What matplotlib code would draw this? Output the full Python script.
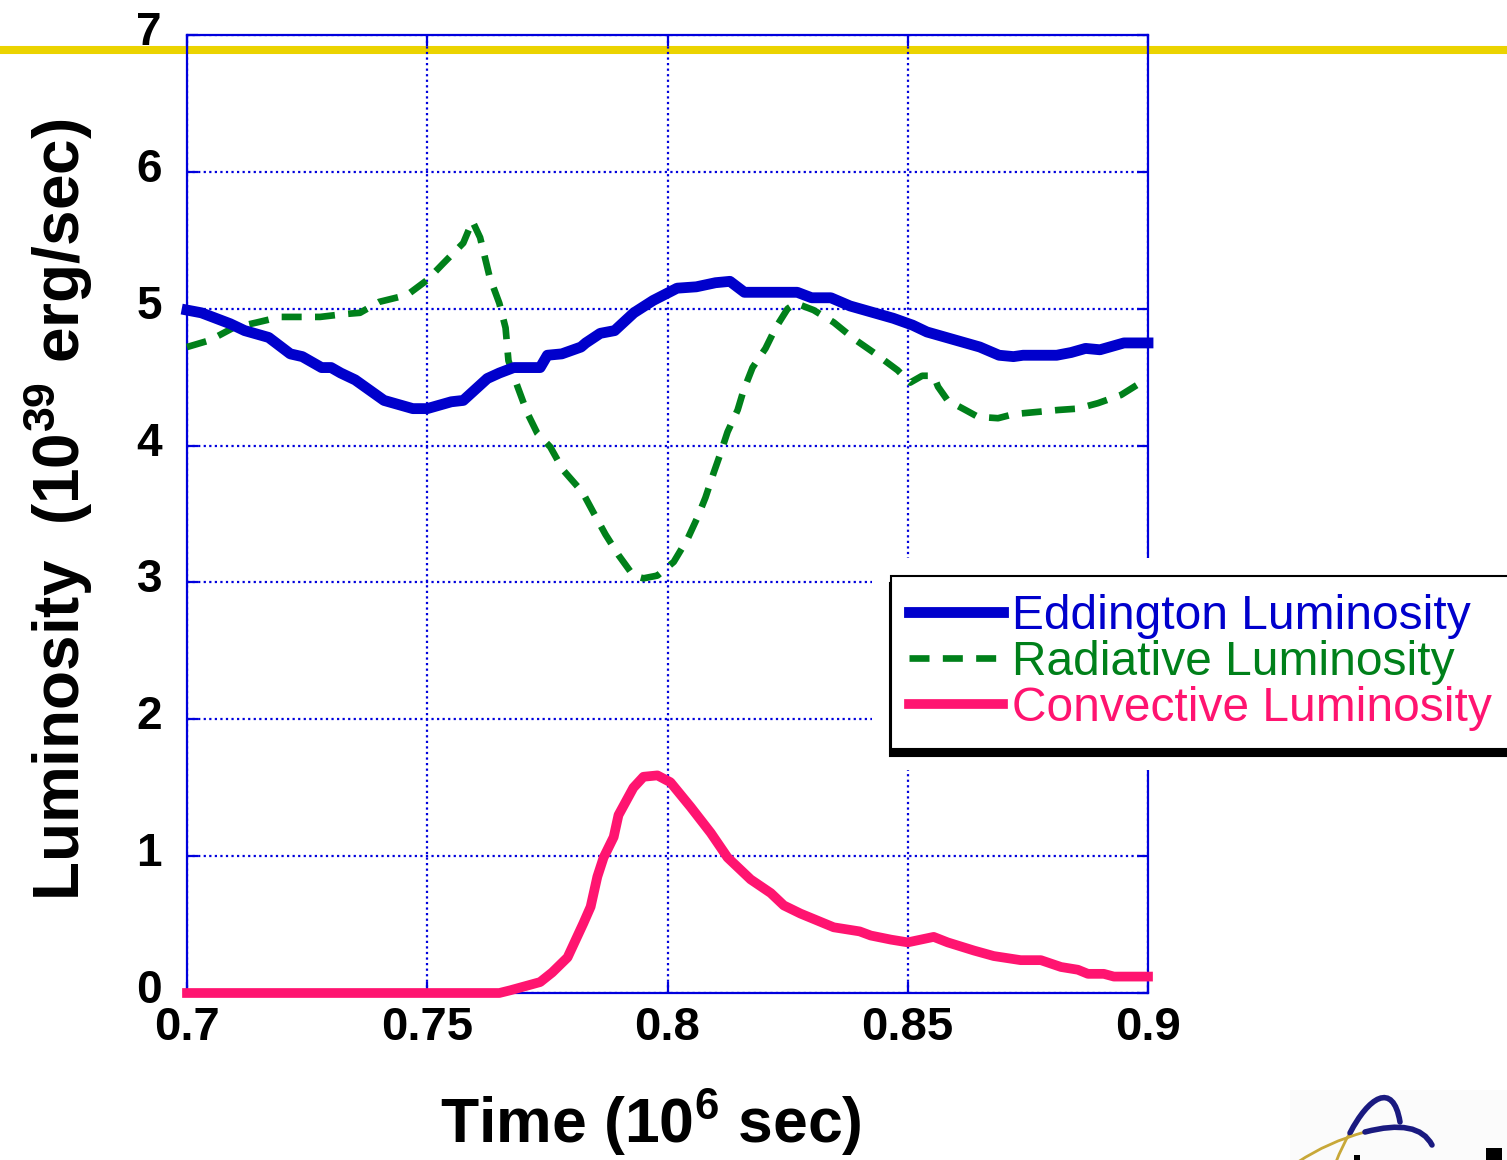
import matplotlib
matplotlib.use('Agg')
import matplotlib.pyplot as plt
import matplotlib.transforms as mtransforms
from matplotlib.lines import Line2D
from matplotlib.patches import Rectangle, PathPatch
from matplotlib.path import Path

plt.rcParams['font.family'] = ['Liberation Sans', 'DejaVu Sans']
plt.rcParams['font.weight'] = 'bold'
plt.rcParams['mathtext.fontset'] = 'custom'
plt.rcParams['mathtext.rm'] = 'Liberation Sans:bold'
plt.rcParams['mathtext.bf'] = 'Liberation Sans:bold'

# Eddington luminosity (10^39 erg/sec) vs time (10^6 sec)
edd_t = [0.700, 0.703, 0.709, 0.712, 0.717, 0.7215, 0.724, 0.728, 0.730, 0.732,
         0.735, 0.741, 0.747, 0.750, 0.755, 0.7575, 0.7625, 0.765, 0.768, 0.7735,
         0.775, 0.778, 0.782, 0.783, 0.786, 0.789, 0.793, 0.797, 0.802, 0.806,
         0.810, 0.813, 0.816, 0.827, 0.830, 0.834, 0.838, 0.843, 0.847, 0.851,
         0.854, 0.859, 0.865, 0.869, 0.872, 0.874, 0.881, 0.884, 0.887, 0.890,
         0.895, 0.900]
edd_l = [4.99, 4.97, 4.89, 4.84, 4.79, 4.67, 4.65, 4.57, 4.57, 4.53,
         4.48, 4.33, 4.27, 4.27, 4.32, 4.33, 4.49, 4.53, 4.57, 4.57,
         4.66, 4.67, 4.72, 4.75, 4.82, 4.84, 4.97, 5.06, 5.15, 5.16,
         5.19, 5.20, 5.12, 5.12, 5.08, 5.08, 5.02, 4.97, 4.93, 4.88,
         4.83, 4.78, 4.72, 4.66, 4.65, 4.66, 4.66, 4.68, 4.71, 4.70,
         4.75, 4.75]

rad_t = [0.700, 0.7048, 0.7096, 0.7146, 0.7194, 0.7277, 0.7325, 0.736, 0.740, 0.7458,
         0.750, 0.7533, 0.7575, 0.7594, 0.761, 0.763, 0.765, 0.7663, 0.7669, 0.7688,
         0.7708, 0.7729, 0.7756, 0.7783, 0.7823, 0.7846, 0.7871, 0.7898, 0.7929, 0.795,
         0.7979, 0.8013, 0.8042, 0.8063, 0.8079, 0.8096, 0.811, 0.8125, 0.8146, 0.8158,
         0.8177, 0.8204, 0.8225, 0.825, 0.8267, 0.8304, 0.8346, 0.8388, 0.8433, 0.8479,
         0.8505, 0.853, 0.8554, 0.8563, 0.8583, 0.862, 0.8646, 0.8688, 0.8721, 0.8813,
         0.8854, 0.8896, 0.8944, 0.8985, 0.900]
rad_l = [4.72, 4.77, 4.86, 4.90, 4.94, 4.94, 4.96, 4.97, 5.05, 5.10,
         5.21, 5.33, 5.48, 5.64, 5.52, 5.23, 5.04, 4.86, 4.62, 4.43,
         4.24, 4.09, 3.99, 3.82, 3.66, 3.51, 3.35, 3.20, 3.05, 3.03,
         3.05, 3.15, 3.32, 3.48, 3.62, 3.80, 3.94, 4.10, 4.26, 4.40,
         4.57, 4.71, 4.86, 5.00, 5.04, 4.99, 4.90, 4.78, 4.67, 4.55,
         4.46, 4.51, 4.51, 4.43, 4.33, 4.26, 4.21, 4.20, 4.23, 4.26,
         4.27, 4.31, 4.37, 4.46, 4.48]

conv_t = [0.700, 0.765, 0.7673, 0.7735, 0.776, 0.7792, 0.7825, 0.784, 0.7854, 0.7867,
          0.7888, 0.7898, 0.7929, 0.795, 0.7979, 0.8006, 0.8048, 0.809, 0.8125, 0.8173,
          0.8215, 0.8242, 0.8277, 0.8346, 0.840, 0.8423, 0.8465, 0.850, 0.8554, 0.8583,
          0.8638, 0.8679, 0.8735, 0.8777, 0.8819, 0.8854, 0.8875, 0.8908, 0.8929, 0.900]
conv_l = [0.0, 0.0, 0.02, 0.08, 0.15, 0.26, 0.51, 0.63, 0.85, 0.99,
          1.14, 1.30, 1.50, 1.58, 1.59, 1.54, 1.36, 1.17, 0.99, 0.83,
          0.73, 0.64, 0.58, 0.48, 0.45, 0.42, 0.39, 0.37, 0.41, 0.37,
          0.31, 0.27, 0.24, 0.24, 0.19, 0.17, 0.14, 0.14, 0.12, 0.12]

x_ticks = [0.7, 0.75, 0.8, 0.85, 0.9]
x_ticklabels = ['0.7', '0.75', '0.8', '0.85', '0.9']
y_ticks = [0, 1, 2, 3, 4, 5, 6, 7]
y_ticklabels = ['0', '1', '2', '3', '4', '5', '6', '7']

W, H = 1507, 1160
fig = plt.figure(figsize=(W / 100, H / 100), dpi=100)
fig.patch.set_facecolor('white')


def px(x, y):
    # slide pixel (from top-left) -> figure fraction
    return (x / W, 1 - y / H)


ax = fig.add_axes([187 / W, (H - 993) / H, 961 / W, 958 / H])
ax.set_facecolor('none')

axis_blue = '#0000DD'
ax.plot(edd_t, edd_l, color='#0000CC', lw=7.8,
        clip_on=False, label='Eddington Luminosity', zorder=4)
ax.plot(rad_t, rad_l, color='#00801A', lw=4.8, dashes=(3.0, 2.0),
        clip_on=False, label='Radiative Luminosity', zorder=3)
ax.plot(conv_t, conv_l, color='#FF1470', lw=7.0,
        clip_on=False, label='Convective Luminosity', zorder=4)

ax.set_xlim(0.7, 0.9)
ax.set_ylim(0, 7)
ax.set_xticks(x_ticks)
ax.set_xticklabels(x_ticklabels)
ax.set_yticks(y_ticks)
ax.set_yticklabels(y_ticklabels)
ax.grid(True, color=axis_blue, linestyle=(0, (1, 1.5)), linewidth=1.6)
for s in ax.spines.values():
    s.set_color(axis_blue)
    s.set_linewidth(1.6)
ax.tick_params(direction='in', length=8, width=1.6, color=axis_blue,
               top=True, right=True, labelcolor='black')
ax.tick_params(axis='x', pad=9, labelsize=34)
ax.tick_params(axis='y', pad=18, labelsize=33)
up = mtransforms.ScaledTranslation(0, 7 / 100, fig.dpi_scale_trans)
for lab in ax.get_yticklabels():
    lab.set_transform(lab.get_transform() + up)

fig.text(*px(58, 510), r'Luminosity  (10$^{\bf 39}$ erg/sec)',
         rotation=90, ha='center', va='center', fontsize=46, fontweight='bold')
fig.text(*px(651, 1122), r'Time (10$^{\bf 6}$ sec)',
         ha='center', va='center', fontsize=45, fontweight='bold')

# yellow rule across the slide, behind the plot
fig.add_artist(Line2D([0, 1], [1 - 50 / H] * 2, transform=fig.transFigure,
                      color='#EBD300', lw=5.8, zorder=-1))

# white area around the legend box
fig.add_artist(Rectangle(px(872, 770), (W - 872) / W, 212 / H,
                         transform=fig.transFigure, facecolor='white',
                         edgecolor='none', zorder=5))

handles, labels = ax.get_legend_handles_labels()
leg = fig.legend(handles, labels, loc='upper left',
                 bbox_to_anchor=px(891, 576), borderaxespad=0,
                 prop={'family': 'Liberation Sans', 'size': 34.5, 'weight': 'normal'},
                 labelcolor='linecolor', handlelength=1.95, handletextpad=0.2,
                 labelspacing=0.02, borderpad=0.38, fancybox=False,
                 framealpha=1, edgecolor='black',
                 shadow={'ox': -1, 'oy': -5, 'color': 'black', 'alpha': 1})
leg.get_frame().set_linewidth(1.5)
leg.set_zorder(6)

# partial logo in the lower right corner
fig.add_artist(Rectangle(px(1290, 1160), (W - 1290) / W, 70 / H,
                         transform=fig.transFigure, facecolor='#FBFBFB',
                         edgecolor='none', zorder=1))
quad = [Path.MOVETO, Path.CURVE3, Path.CURVE3]
cubic = [Path.MOVETO, Path.CURVE4, Path.CURVE4, Path.CURVE4]
logo_curves = [
    ([(1336, 1162), (1342, 1146), (1350, 1133)], quad, '#C8A838', 2.0),
    ([(1350, 1133), (1368, 1098), (1393, 1080), (1400, 1122)], cubic, '#1A1A80', 4.0),
    ([(1298, 1162), (1328, 1142), (1365, 1132)], quad, '#C8A838', 2.0),
    ([(1365, 1132), (1418, 1118), (1432, 1145)], quad, '#1A1A80', 4.0),
]
for pts, codes, col, lw in logo_curves:
    path = Path([px(*p) for p in pts], codes)
    fig.add_artist(PathPatch(path, transform=fig.transFigure, facecolor='none',
                             edgecolor=col, lw=lw, capstyle='round', zorder=2))
fig.add_artist(Rectangle(px(1354, 1160), 6 / W, 5 / H, transform=fig.transFigure,
                         facecolor='black', edgecolor='none', zorder=2))
fig.add_artist(Rectangle(px(1486, 1160), 16 / W, 12 / H, transform=fig.transFigure,
                         facecolor='black', edgecolor='none', zorder=2))

fig.savefig('out.png', dpi=100)
